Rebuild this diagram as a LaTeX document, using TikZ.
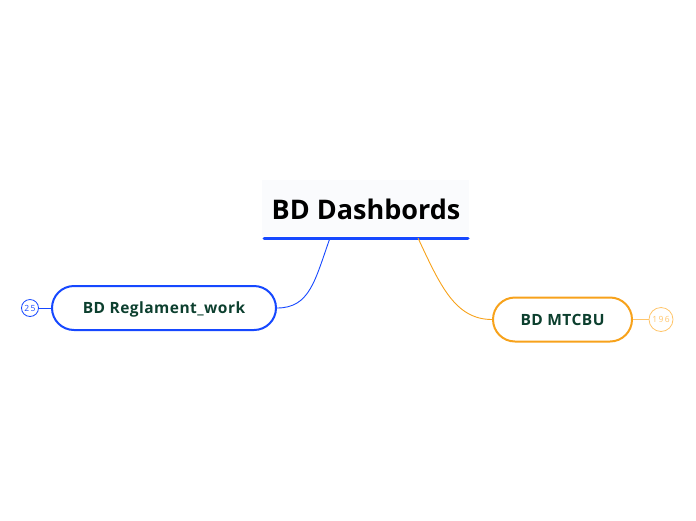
\documentclass[tikz,border=0pt]{standalone}
\usepackage{fontspec}
\setmainfont{Open Sans}
\newfontfamily\temafont[LetterSpace=3]{Open Sans}
\definecolor{azul}{HTML}{1648FF}
\definecolor{naranja}{HTML}{F7A21B}
\definecolor{naranjaclaro}{HTML}{FFC56A}
\definecolor{verdeoscuro}{HTML}{0C3F2E}
\definecolor{fondo}{HTML}{FAFBFD}
\tikzset{
  tema/.style={rounded corners=22pt, draw, line width=2pt, text=verdeoscuro,
    font=\temafont\fontsize{15.5}{18}\selectfont\bfseries, minimum height=44pt,
    inner xsep=0pt, text height=11pt, text depth=0pt},
  contador/.style={circle, draw, line width=0.8pt, inner sep=0pt,
    font=\fontsize{8.5}{10}\selectfont},
}
\begin{document}
\begin{tikzpicture}[x=1pt,y=-1pt]
% Lienzo
\useasboundingbox (0,0) rectangle (696,520);

% Central
\fill[fondo] (262,180) rectangle (469,236);
\node (central) [font=\fontsize{27}{32}\selectfont\bfseries] at (366,209) {BD Dashbords};
\draw [azul, line width=3pt, line cap=round] (264,238) -- (468,238);
\coordinate (salidaA) at (330,238);
\coordinate (salidaB) at (418,238);

% Temas
\node (reglamento) [tema, draw=azul, minimum width=224pt] at (164,308) {BD Reglament\_work};
\node (mtcbu) [tema, draw=naranja, minimum width=139pt] at (562.5,319.5) {BD MTCBU};

% Contadores
\node (cuentaA) [contador, draw=azul, text=azul, minimum size=17pt] at (30,308) {2\,5};
\node (cuentaB) [contador, draw=naranjaclaro, text=naranjaclaro, minimum size=24pt] at (661,319.5) {1\,9\,6};

% Conexiones
\draw [azul, line width=0.9pt] (salidaA) .. controls (315,280) and (310,308) .. (reglamento.east);
\draw [naranja, line width=0.9pt] (salidaB) .. controls (440,285) and (455,319.5) .. (mtcbu.west);
\draw [azul, line width=0.9pt] (cuentaA) -- (reglamento);
\draw [naranjaclaro, line width=0.9pt] (mtcbu) -- (cuentaB);
\end{tikzpicture}
\end{document}
